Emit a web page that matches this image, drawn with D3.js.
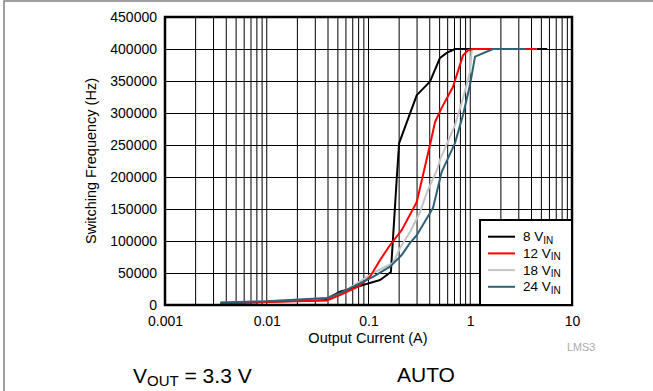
<!DOCTYPE html>
<meta charset="utf-8">
<html>
  <head>
    <title>Switching Frequency vs Output Current</title>
    <script src="https://d3js.org/d3.v7.min.js"></script>
    <style>
      body { margin: 0; background: #fff; }
      text { font-family: "Liberation Sans", Arial, Helvetica, sans-serif; }
    </style>
  </head>
  <body>
    <div id="chart"></div>
    <script type="text/javascript">

        // [output current (A), switching frequency (Hz)]
        var vin8 = [[0.0035, 3000], [0.01, 5000], [0.0374, 8000], [0.0525, 20800], [0.13, 39000],
                    [0.166, 51600], [0.189, 195000], [0.2, 253000], [0.298, 328000], [0.402, 349000],
                    [0.504, 386000], [0.587, 394000], [0.708, 400000], [5.7, 400000]];
        var vin12 = [[0.0035, 2500], [0.01, 4500], [0.0388, 7000], [0.0525, 15600], [0.079, 28600],
                     [0.1035, 44200], [0.13, 70300], [0.163, 93750], [0.212, 117000], [0.298, 161000],
                     [0.402, 250000], [0.451, 286000], [0.524, 308000], [0.677, 341000], [0.849, 390000],
                     [0.95, 398000], [1.06, 400000], [4.5, 400000]];
        var vin18 = [[0.0035, 4000], [0.01, 5500], [0.039, 11000], [0.0525, 17000], [0.1107, 50000],
                     [0.174, 65600], [0.204, 89000], [0.256, 114000], [0.321, 145000], [0.376, 176600],
                     [0.471, 211000], [0.504, 226600], [0.708, 281000], [0.849, 323000], [0.995, 364500],
                     [1.03, 396000], [1.064, 400000], [4.5, 400000]];
        var vin24 = [[0.0035, 4000], [0.01, 6000], [0.039, 11000], [0.0525, 18700], [0.1107, 44000],
                     [0.163, 60000], [0.212, 78000], [0.256, 97000], [0.298, 109000], [0.43, 151500],
                     [0.524, 208000], [0.708, 253000], [0.849, 297000], [0.995, 344000], [1.114, 388000],
                     [1.674, 400000], [3.5, 400000]];

        var series_names = ["8", "12", "18", "24"];
        var series_colors = ["#000000", "#ff0000", "#c4c4c4", "#2d6278"];
        var x_ticks = [0.001, 0.01, 0.1, 1, 10];
        var x_tick_labels = ["0.001", "0.01", "0.1", "1", "10"];
        var y_ticks = d3.range(0, 450001, 50000);

        var total_width = 653, total_height = 391;
        var plot = {left: 165, right: 572, top: 17, bottom: 305};

        var svg = d3.select("#chart").append("svg")
            .attr("width", total_width)
            .attr("height", total_height);

        // outer frame of the figure
        svg.append("path")
            .attr("d", "M4,395 L4,1 L660,1")
            .attr("fill", "none")
            .attr("stroke", "#808080")
            .attr("stroke-width", 1.5);

        var x_scale = d3.scaleLog().domain([0.001, 10]).range([plot.left, plot.right]);
        var y_scale = d3.scaleLinear().domain([0, 450000]).range([plot.bottom, plot.top]);

        // vertical grid: 1..9 in every decade
        var x_grid = [];
        [0.001, 0.01, 0.1, 1].forEach(function(dec){
            for (var k = 2; k <= 9; k++) x_grid.push(dec * k);
            x_grid.push(dec * 10);
        });

        svg.append("g").selectAll("line")
            .data(x_grid)
            .enter().append("line")
            .attr("x1", function(d){ return x_scale(d); })
            .attr("x2", function(d){ return x_scale(d); })
            .attr("y1", plot.top)
            .attr("y2", plot.bottom)
            .attr("stroke", "#000")
            .attr("stroke-width", 1);

        svg.append("g").selectAll("line")
            .data(y_ticks)
            .enter().append("line")
            .attr("x1", plot.left)
            .attr("x2", plot.right)
            .attr("y1", function(d){ return y_scale(d) + 0.5; })
            .attr("y2", function(d){ return y_scale(d) + 0.5; })
            .attr("stroke", "#000")
            .attr("stroke-width", 1);

        // curves, drawn black, 18, 12, 24 so the ends overlap like the original
        var line = d3.line()
            .x(function(d){ return x_scale(d[0]); })
            .y(function(d){ return y_scale(d[1]); });

        var all_series = [vin8, vin12, vin18, vin24];
        var draw_order = [0, 2, 1, 3];
        svg.append("g").selectAll("path")
            .data(draw_order)
            .enter().append("path")
            .attr("d", function(i){ return line(all_series[i]); })
            .attr("fill", "none")
            .attr("stroke", function(i){ return series_colors[i]; })
            .attr("stroke-width", 2)
            .attr("stroke-linejoin", "round");

        // plot frame
        svg.append("rect")
            .attr("x", plot.left)
            .attr("y", plot.top)
            .attr("width", plot.right - plot.left)
            .attr("height", plot.bottom - plot.top)
            .attr("fill", "none")
            .attr("stroke", "#000")
            .attr("stroke-width", 2.5);

        // axes (labels only)
        var x_axis = d3.axisBottom(x_scale)
            .tickValues(x_ticks)
            .tickFormat(function(d, i){ return x_tick_labels[i]; })
            .tickSize(0)
            .tickPadding(11);
        var gx = svg.append("g")
            .attr("transform", "translate(0," + plot.bottom + ")")
            .call(x_axis);
        gx.select(".domain").remove();
        gx.selectAll("text").style("font-size", "14px").attr("fill", "#000");

        var y_axis = d3.axisLeft(y_scale)
            .tickValues(y_ticks)
            .tickFormat(d3.format("d"))
            .tickSize(0)
            .tickPadding(8);
        var gy = svg.append("g")
            .attr("transform", "translate(" + plot.left + ",0)")
            .call(y_axis);
        gy.select(".domain").remove();
        gy.selectAll("text").style("font-size", "14px").attr("fill", "#000");

        svg.append("text")
            .attr("x", 368)
            .attr("y", 343)
            .attr("text-anchor", "middle")
            .style("font-size", "14.5px")
            .text("Output Current (A)");

        svg.append("text")
            .attr("transform", "translate(96,161) rotate(-90)")
            .attr("text-anchor", "middle")
            .style("font-size", "14.5px")
            .text("Switching Frequency (Hz)");

        // legend
        var legend = svg.append("g");
        legend.append("rect")
            .attr("x", 480)
            .attr("y", 220)
            .attr("width", plot.right - 480)
            .attr("height", plot.bottom - 220)
            .attr("fill", "#fff")
            .attr("stroke", "#000")
            .attr("stroke-width", 2);

        var entries = legend.selectAll(".entry")
            .data(series_names)
            .enter().append("g")
            .attr("transform", function(d, i){ return "translate(0," + (236.7 + i * 16.7) + ")"; });
        entries.append("line")
            .attr("x1", 488).attr("x2", 515)
            .attr("stroke", function(d, i){ return series_colors[i]; })
            .attr("stroke-width", 2);
        var lt = entries.append("text")
            .attr("x", 523)
            .attr("y", 4.5)
            .style("font-size", "13.5px");
        lt.append("tspan").text(function(d){ return d + " V"; });
        lt.append("tspan").attr("dy", 2.5).style("font-size", "10px").text("IN");

        svg.append("text")
            .attr("x", 567)
            .attr("y", 351)
            .attr("fill", "#aaa")
            .style("font-size", "10.8px")
            .text("LMS3");

        var vout = svg.append("text")
            .attr("x", 133)
            .attr("y", 383)
            .style("font-size", "21px");
        vout.append("tspan").text("V");
        vout.append("tspan").attr("dy", 3).style("font-size", "15px").text("OUT");
        vout.append("tspan").attr("dy", -3).text(" = 3.3 V");

        svg.append("text")
            .attr("x", 397)
            .attr("y", 382)
            .style("font-size", "21px")
            .text("AUTO");
    </script>
  </body>
</html>
